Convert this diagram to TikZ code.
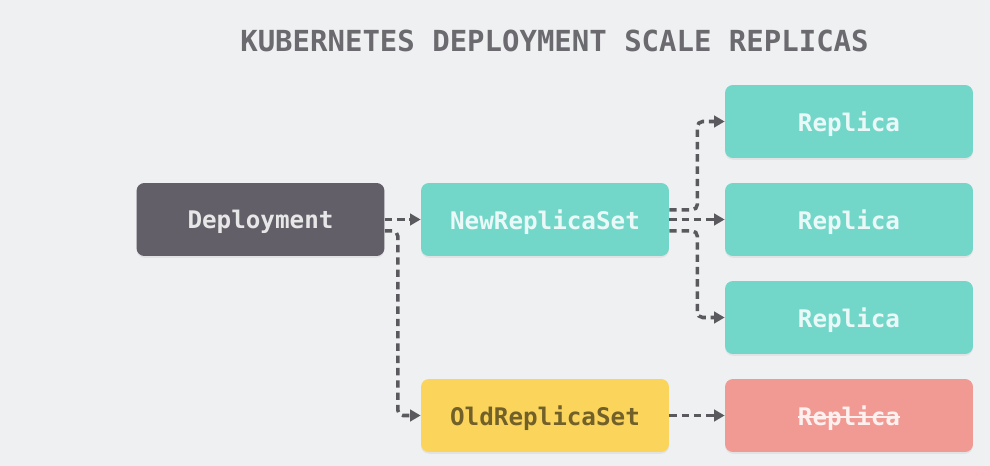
\documentclass[tikz,border=0pt]{standalone}
\usepackage{fontspec}
\setmonofont{DejaVu Sans Mono}
\usetikzlibrary{arrows.meta,shadows}
\definecolor{bgcol}{HTML}{EFF0F2}
\definecolor{depcol}{HTML}{625F68}
\definecolor{tealcol}{HTML}{72D7C9}
\definecolor{yellowcol}{HTML}{FBD55B}
\definecolor{redcol}{HTML}{F09A93}
\definecolor{linkcol}{HTML}{5A5A5E}
\definecolor{titlecol}{HTML}{6B6B6F}
\newcommand\crossout[1]{\sbox0{#1}\rlap{\usebox0}\rule[0.3em]{\wd0}{0.07em}}
\tikzset{
  box/.style={rounded corners=4.5pt, minimum width=4.96cm, minimum height=1.46cm,
    inner sep=0pt, text depth=0pt, font=\ttfamily\bfseries\fontsize{13.8}{16}\selectfont,
    drop shadow={opacity=0.12, shadow xshift=0pt, shadow yshift=-1pt}},
  link/.style={linkcol, line width=2pt, dash pattern=on 4.2pt off 2.8pt,
    rounded corners=3pt, -{Triangle[length=6pt,width=6.5pt]}}
}
\begin{document}
\begin{tikzpicture}[x=0.02cm,y=-0.02cm]
  \fill[bgcol] (0,0) rectangle (990,466);
  \node[titlecol, anchor=base, font=\ttfamily\bfseries\fontsize{16.5}{18}\selectfont]
    (title) at (554.5,52) {KUBERNETES DEPLOYMENT SCALE REPLICAS};
  % deployment and replica sets
  \node[box, fill=depcol, text=white!85!depcol] (dep) at (260.5,219.5) {Deployment};
  \node[box, fill=tealcol, text=white!85!tealcol] (new) at (545,219.5) {NewReplicaSet};
  \node[box, fill=yellowcol, text=black!55!yellowcol] (old) at (545,415.5) {OldReplicaSet};
  % replicas
  \node[box, fill=tealcol, text=white!85!tealcol] (r1) at (849,121.5) {Replica};
  \node[box, fill=tealcol, text=white!85!tealcol] (r2) at (849,219.5) {Replica};
  \node[box, fill=tealcol, text=white!85!tealcol] (r3) at (849,317.5) {Replica};
  \node[box, fill=redcol, text=white!85!redcol] (r4) at (849,415.5) {\crossout{Replica}};
  % links
  \draw[link] (dep.east) -- (new.west);
  \draw[link] ([yshift=-6.5pt]dep.east) -- ++(13,0) |- (old.west);
  \draw[link] ([yshift=5.5pt]new.east) -- ++(28,0) |- (r1.west);
  \draw[link] (new.east) -- (r2.west);
  \draw[link] ([yshift=-6.5pt]new.east) -- ++(28,0) |- (r3.west);
  \draw[link] (old.east) -- (r4.west);
\end{tikzpicture}
\end{document}
